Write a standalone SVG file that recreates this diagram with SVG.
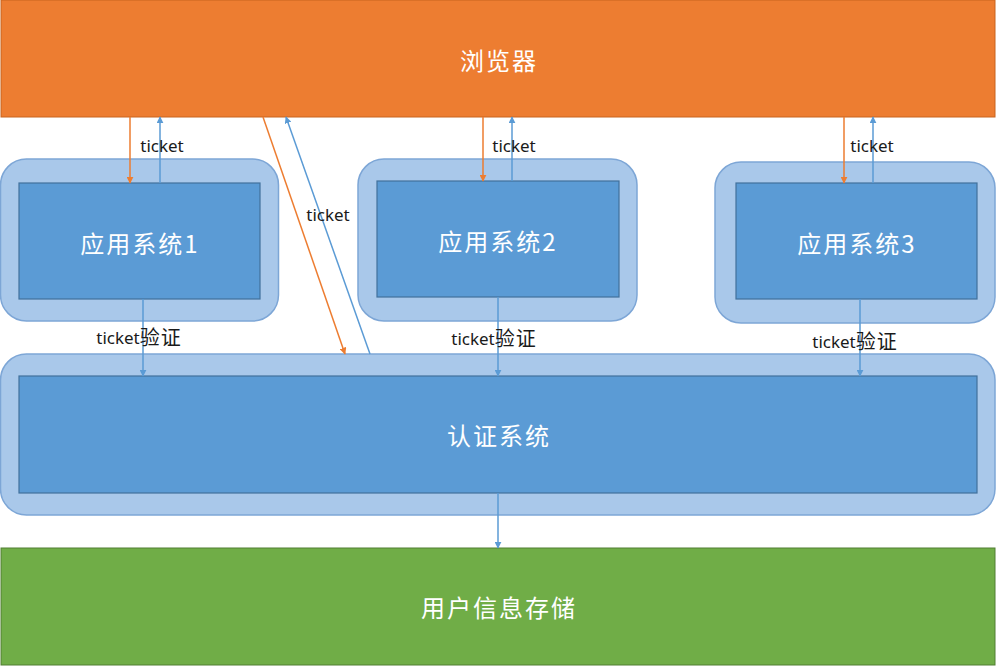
<svg xmlns="http://www.w3.org/2000/svg" width="996" height="666" viewBox="0 0 996 666">
<style>
.outer{fill:#A9C8EA;stroke:#7DA6D6;stroke-width:1.5}
.inner{fill:#5B9BD5;stroke:#41719C;stroke-width:1.2}
.big{font-family:"Noto Sans CJK SC","Noto Sans",sans-serif;font-size:24px;letter-spacing:2px;fill:#FFFFFF;text-anchor:middle;dominant-baseline:central}
.lbl{font-family:"Noto Sans","Noto Sans CJK SC",sans-serif;font-size:17px;fill:#1a1a1a;text-anchor:middle;dominant-baseline:central}
.cj{font-size:20px;letter-spacing:1px}
.o{stroke:#ED7D31;stroke-width:1.5;fill:none;marker-end:url(#ao)}
.b{stroke:#5B9BD5;stroke-width:1.5;fill:none;marker-end:url(#ab)}
</style>
<defs>
<marker id="ao" viewBox="0 0 10 10" refX="9" refY="5" markerWidth="7" markerHeight="7" markerUnits="userSpaceOnUse" orient="auto"><path d="M0,0 L10,5 L0,10 z" fill="#ED7D31"/></marker>
<marker id="ab" viewBox="0 0 10 10" refX="9" refY="5" markerWidth="7" markerHeight="7" markerUnits="userSpaceOnUse" orient="auto"><path d="M0,0 L10,5 L0,10 z" fill="#5B9BD5"/></marker>
</defs>
<rect width="996" height="666" fill="#FFFFFF"/>
<g id="browser">
<rect x="1" y="0" width="994" height="117" fill="#ED7D31" stroke="#C8641F" stroke-width="1"/>
<text class="big" x="499" y="59">浏览器</text>
</g>
<g id="app1">
<rect class="outer" x="0.5" y="159" width="278" height="162" rx="26"/>
<rect class="inner" x="19" y="183" width="241" height="116"/>
<text class="big" x="140" y="242">应用系统1</text>
</g>
<g id="app2">
<rect class="outer" x="358" y="159" width="279" height="162" rx="26"/>
<rect class="inner" x="377" y="181" width="242" height="116"/>
<text class="big" x="498" y="240">应用系统2</text>
</g>
<g id="app3">
<rect class="outer" x="715" y="162" width="280" height="161" rx="26"/>
<rect class="inner" x="736" y="183" width="241" height="116"/>
<text class="big" x="857" y="242">应用系统3</text>
</g>
<g id="auth">
<rect class="outer" x="0.5" y="354" width="994.5" height="161" rx="26"/>
<rect class="inner" x="19" y="376" width="958" height="117"/>
<text class="big" x="499" y="434">认证系统</text>
</g>
<g id="storage">
<rect x="1" y="548" width="994" height="117" fill="#70AD47" stroke="#507E32" stroke-width="1"/>
<text class="big" x="499" y="606">用户信息存储</text>
</g>
<g id="connectors">
<line class="o" x1="130" y1="117" x2="130" y2="183"/>
<line class="b" x1="160" y1="183" x2="160" y2="117"/>
<line class="o" x1="483" y1="117" x2="483" y2="181"/>
<line class="b" x1="512" y1="181" x2="512" y2="117"/>
<line class="o" x1="844" y1="117" x2="844" y2="183"/>
<line class="b" x1="873" y1="183" x2="873" y2="117"/>
<line class="o" x1="263" y1="117" x2="345" y2="354"/>
<line class="b" x1="370" y1="354" x2="286" y2="117"/>
<line class="b" x1="143" y1="299" x2="143" y2="376"/>
<line class="b" x1="498" y1="297" x2="498" y2="376"/>
<line class="b" x1="860" y1="299" x2="860" y2="376"/>
<line class="b" x1="498" y1="493" x2="498" y2="548"/>
<text class="lbl" x="162" y="145">ticket</text>
<text class="lbl" x="514" y="145">ticket</text>
<text class="lbl" x="872" y="145">ticket</text>
<text class="lbl" x="328" y="214">ticket</text>
<text class="lbl" x="139" y="337">ticket<tspan class="cj">验证</tspan></text>
<text class="lbl" x="494" y="338">ticket<tspan class="cj">验证</tspan></text>
<text class="lbl" x="855" y="341">ticket<tspan class="cj">验证</tspan></text>
</g>
</svg>
